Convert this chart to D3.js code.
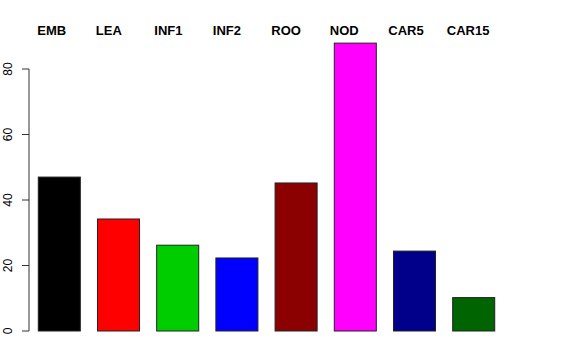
<!DOCTYPE html>
<html><head><meta charset="utf-8">
<script src="https://cdn.jsdelivr.net/npm/d3@7"></script>
<style>body{margin:0;background:#fff}svg{display:block}</style>
</head><body>
<svg id="chart" width="576" height="360"></svg>
<script>
const categories = ["EMB","LEA","INF1","INF2","ROO","NOD","CAR5","CAR15"];
const values = [47.0, 34.2, 26.2, 22.3, 45.2, 87.9, 24.4, 10.2];
const colors = ["#000000","#FF0000","#00CD00","#0000FF","#8B0000","#FF00FF","#00008B","#006400"];
const yTicks = [0,20,40,60,80];

const svg = d3.select("#chart");
const x = d3.scaleBand().domain(categories).range([29.7, 503.3]).paddingInner(0.29).paddingOuter(0.145);
const y = d3.scaleLinear().domain([0,80]).range([331, 69]);

svg.selectAll("rect.bar").data(categories).enter().append("rect")
  .attr("class","bar")
  .attr("x", d => x(d))
  .attr("width", x.bandwidth())
  .attr("y", (d,i) => y(values[i]))
  .attr("height", (d,i) => y(0) - y(values[i]))
  .attr("fill", (d,i) => colors[i])
  .attr("stroke", "#222")
  .attr("stroke-width", 1);

// y axis
const ax = svg.append("g").attr("transform","translate(29,0)");
ax.append("line").attr("x1",0).attr("x2",0).attr("y1",y(0)).attr("y2",y(80)).attr("stroke","#333");
ax.selectAll("line.tick").data(yTicks).enter().append("line")
  .attr("x1",-7).attr("x2",0).attr("y1",d=>y(d)).attr("y2",d=>y(d)).attr("stroke","#333");
ax.selectAll("text").data(yTicks).enter().append("text")
  .attr("transform", d => `translate(-17.5,${y(d)}) rotate(-90)`)
  .attr("text-anchor","middle")
  .attr("font-family","Liberation Sans, Arial, sans-serif")
  .attr("font-size",12)
  .text(d=>d);

// top labels
svg.selectAll("text.lab").data(categories).enter().append("text")
  .attr("class","lab")
  .attr("x", (d,i) => x(d) - 1 - i*0.7)
  .attr("y", 35)
  .attr("font-family","Liberation Sans, Arial, sans-serif")
  .attr("font-weight","bold")
  .attr("font-size",13)
  .text(d=>d);
</script>
</body></html>
